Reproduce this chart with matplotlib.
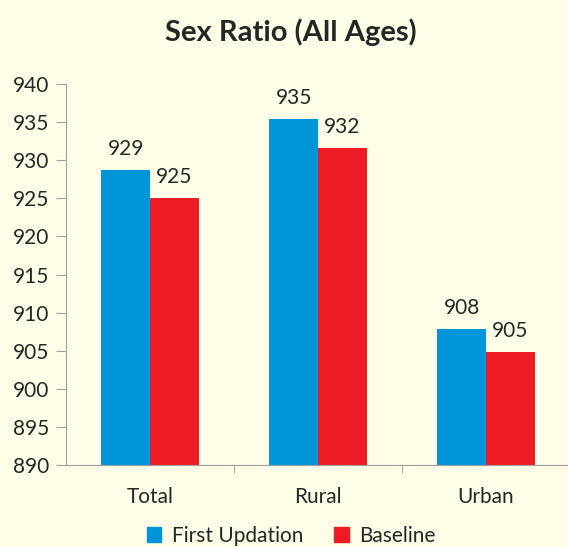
import matplotlib
matplotlib.use('Agg')
from matplotlib import pyplot as plt
from matplotlib.patches import Patch
import numpy as np

categories = ['Total', 'Rural', 'Urban']
first_updation = [928.7, 935.4, 907.8]
baseline = [925.0, 931.6, 904.8]
first_labels = ['929', '935', '908']
baseline_labels = ['925', '932', '905']

BG = '#FEFDE8'
BLUE = '#0095D9'
RED = '#ED1C24'
TXT = '#262626'

plt.rcParams['font.family'] = ['Lato', 'DejaVu Sans']

fig = plt.figure(figsize=(5.68, 5.47), dpi=100, facecolor=BG)
ax = fig.add_axes([66 / 568, 0.1499, 1 - 66 / 568, 0.8464 - 0.1499])
ax.set_facecolor(BG)

x = np.arange(len(categories))
w = 0.29
ax.bar(x - w / 2, np.array(first_updation) - 890, w, bottom=890, color=BLUE)
ax.bar(x + w / 2, np.array(baseline) - 890, w, bottom=890, color=RED)

for xi, v, lab in zip(x, first_updation, first_labels):
    ax.annotate(lab, (xi - w / 2, v), xytext=(0, 8), textcoords='offset points',
                ha='center', va='bottom', fontsize=15, color=TXT)
for xi, v, lab in zip(x, baseline, baseline_labels):
    ax.annotate(lab, (xi + w / 2, v), xytext=(0, 8), textcoords='offset points',
                ha='center', va='bottom', fontsize=15, color=TXT)

ax.set_ylim(890, 940)
ax.set_yticks(np.arange(890, 941, 5))
ax.set_xlim(-0.5, -0.5 + 502 / 168)

ax.set_xticks(x)
ax.set_xticklabels(categories)
ax.set_xticks([0.5, 1.5], minor=True)
ax.tick_params(axis='x', which='major', length=0, pad=16, labelsize=15, colors=TXT)
ax.tick_params(axis='x', which='minor', length=6, color='#A0A0A0')
ax.tick_params(axis='y', length=7, color='#A0A0A0', labelsize=15, labelcolor=TXT, pad=5)

for s in ['top', 'right']:
    ax.spines[s].set_visible(False)
for s in ['left', 'bottom']:
    ax.spines[s].set_color('#A0A0A0')

fig.text(291 / 568, 1 - 32 / 547, 'Sex Ratio (All Ages)', ha='center', va='center',
         fontsize=21, fontweight='bold', color=TXT)

handles = [Patch(color=BLUE, label='First Updation'), Patch(color=RED, label='Baseline')]
fig.legend(handles=handles, loc='center', bbox_to_anchor=(291 / 568, 1 - 536 / 547), ncol=2,
           frameon=False, fontsize=15, handlelength=0.7, handleheight=0.7,
           handletextpad=0.5, columnspacing=1.5, labelcolor=TXT)

fig.savefig('out.png', dpi=100, facecolor=BG)
